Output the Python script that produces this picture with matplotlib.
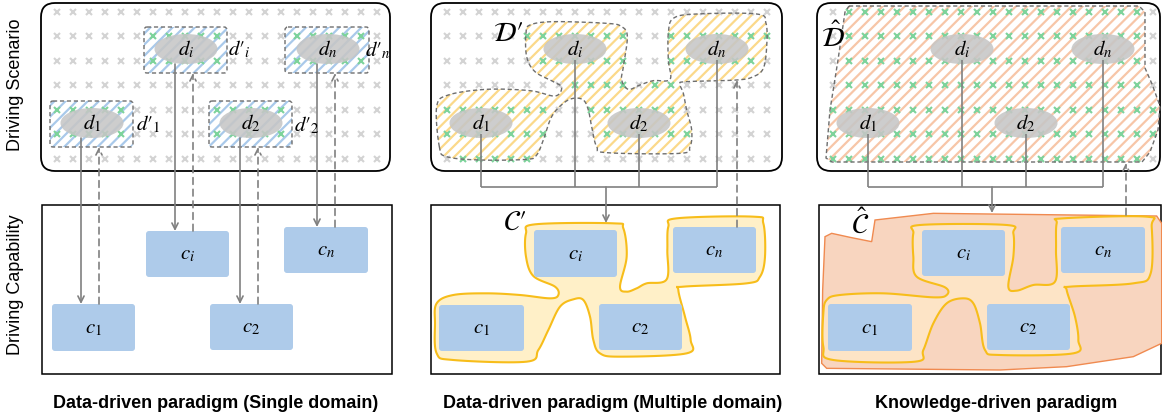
import numpy as np
import matplotlib
matplotlib.use("Agg")
import matplotlib.pyplot as plt
from matplotlib.patches import Ellipse, Rectangle, FancyBboxPatch, Polygon, FancyArrowPatch
from matplotlib.path import Path

plt.rcParams['mathtext.fontset'] = 'stix'
plt.rcParams['hatch.linewidth'] = 1.6

# ---------------- content ----------------
panel_titles = ["Data-driven paradigm (Single domain)",
                "Data-driven paradigm (Multiple domain)",
                "Knowledge-driven paradigm"]
row_labels = ["Driving Scenario", "Driving Capability"]
node_subs = ["1", "i", "2", "n"]
region_labels_top = [None, r"$\mathcal{D}\prime$", r"$\hat{\mathcal{D}}$"]
region_labels_bot = [None, r"$\mathcal{C}\prime$", r"$\hat{\mathcal{C}}$"]

# ---------------- layout (pixels) ----------------
W, H = 1162, 418
top_boxes = [(41, 3, 390, 171), (431, 3, 782, 171), (817, 3, 1160, 171)]
bot_boxes = [(42, 205, 392, 374), (431, 205, 780, 374), (819, 205, 1161, 374)]
grid_x0 = [57, 447, 833]
grid_dx = 16
grid_n = 21
grid_rows = [12, 36, 61, 85, 110, 134, 159]
title_x = [216, 613, 996]
title_y = 403

# ellipse centres for d1, di, d2, dn
ell_centres = [
    [(92, 123), (186, 49), (251, 123), (328, 49)],
    [(481, 123), (575, 49), (639, 123), (717, 49)],
    [(868, 123), (962, 49), (1026, 123), (1103, 49)],
]
ell_w, ell_h = 63, 30
# capability boxes (x0, y0, x1, y1)
cap_boxes = [
    [(52, 304, 135, 351), (146, 231, 229, 277), (210, 304, 293, 350), (284, 227, 368, 273)],
    [(439, 305, 524, 351), (534, 230, 617, 277), (599, 304, 682, 350), (673, 227, 756, 273)],
    [(828, 304, 912, 351), (922, 230, 1005, 276), (987, 304, 1070, 350), (1061, 227, 1145, 273)],
]
# panel-1 local domain boxes
dp_boxes = [(50, 101, 133, 147), (144, 27, 227, 73), (209, 101, 292, 147), (285, 27, 369, 73)]
dp_label_pos = [(148, 124), (239, 49), (307, 125), (378, 50)]

def smooth(pts, n=14):
    P = np.array(pts, float)
    N = len(P)
    out = []
    t = np.linspace(0, 1, n, endpoint=False)[:, None]
    for i in range(N):
        p0, p1, p2, p3 = P[i - 1], P[i], P[(i + 1) % N], P[(i + 2) % N]
        out.append(0.5 * ((2 * p1) + (-p0 + p2) * t + (2 * p0 - 5 * p1 + 4 * p2 - p3) * t ** 2
                          + (-p0 + 3 * p1 - 3 * p2 + p3) * t ** 3))
    return np.vstack(out)

def zoomed(pts, ox, oy):
    return [(x / 3 + ox, y / 3 + oy) for x, y in pts]

Dprime_raw = [(58,440),(50,320),(85,285),(200,268),(330,272),(405,288),(425,262),(400,245),(345,215),
              (320,170),(318,100),(330,75),(400,65),(560,70),(605,80),(622,110),(610,200),(605,240),
              (625,268),(660,255),(700,242),(750,238),(745,180),(745,100),(760,55),(830,42),(1010,42),
              (1038,70),(1040,140),(1030,205),(1000,230),(950,240),(800,245),(780,252),(790,280),
              (800,330),(815,390),(810,440),(780,460),(560,458),(530,440),(515,380),(505,330),(490,300),
              (460,295),(430,310),(395,350),(370,420),(350,465),(320,478),(180,480),(80,470)]
Cprime_raw = [(45,400),(50,340),(100,315),(200,310),(300,315),(390,325),(415,315),(405,290),(340,258),
              (318,200),(318,130),(345,103),(580,100),(610,115),(620,200),(600,290),(620,305),(650,295),
              (680,280),(740,268),(742,180),(745,110),(770,85),(1000,80),(1030,100),(1035,200),(1020,260),
              (980,280),(790,290),(775,300),(795,380),(812,450),(800,490),(600,500),(540,490),(520,450),
              (510,380),(490,330),(460,328),(420,350),(385,420),(355,480),(320,515),(100,510),(50,490)]
Chat_y_raw = [(70,370),(80,330),(120,315),(250,310),(400,322),(440,315),(435,292),(350,260),(340,200),
              (340,130),(360,105),(620,105),(640,130),(640,200),(625,290),(650,302),(700,285),(765,275),
              (768,180),(770,100),(790,85),(1040,80),(1055,110),(1052,250),(1000,280),(810,290),(800,300),
              (825,380),(835,450),(820,490),(600,495),(555,480),(540,400),(520,340),(490,325),(440,340),
              (400,400),(370,480),(345,515),(100,510),(70,470)]
Chat_o_raw = [(75,140),(95,130),(150,142),(215,155),(225,90),(400,70),(1070,78),(1085,100),(1085,460),
              (1000,500),(800,530),(600,540),(80,535),(65,520),(68,300)]
Dhat_pts = [(849,6),(1139,6),(1145,12),(1145,68),(1152,84),(1160,106),(1158,130),(1150,152),
            (1142,162),(832,162),(826,158),(830,110),(838,60),(845,12)]

Dprime = smooth(zoomed(Dprime_raw, 420, 0))
Cprime = smooth(zoomed(Cprime_raw, 420, 190))
Chat_y = smooth(zoomed(Chat_y_raw, 800, 190))
Chat_o = np.array(zoomed(Chat_o_raw, 800, 190))
Dhat = np.array(Dhat_pts, float)

GRAYX = '#d3d3d3'
GREENX = '#7dd39b'
LINE = '#808080'
BLUE_BOX = '#aecbea'
ELL = '#c6c6c6'

fig = plt.figure(figsize=(W / 100, H / 100), dpi=100)
ax = fig.add_axes([0, 0, 1, 1])
ax.set_xlim(0, W)
ax.set_ylim(H, 0)
ax.axis('off')

def arrow(x0, y0, x1, y1, dashed=False):
    a = FancyArrowPatch((x0, y0), (x1, y1), arrowstyle='->', mutation_scale=11,
                        color=LINE, lw=1.2, linestyle=(0, (4, 3)) if dashed else '-',
                        shrinkA=0, shrinkB=0, zorder=6)
    ax.add_patch(a)

def line(xs, ys, dashed=False):
    ax.plot(xs, ys, color=LINE, lw=1.2, ls=(0, (4, 3)) if dashed else '-', zorder=6,
            solid_capstyle='butt')

# ---------- frames ----------
for (x0, y0, x1, y1) in top_boxes:
    ax.add_patch(FancyBboxPatch((x0, y0), x1 - x0, y1 - y0,
                                boxstyle="round,pad=0,rounding_size=14",
                                fc='white', ec='black', lw=1.3, zorder=1))
for (x0, y0, x1, y1) in bot_boxes:
    ax.add_patch(Rectangle((x0, y0), x1 - x0, y1 - y0, fc='white', ec='black', lw=1.1, zorder=1))

# ---------- hatched regions ----------
for (x0, y0, x1, y1) in dp_boxes:
    ax.add_patch(FancyBboxPatch((x0, y0), x1 - x0, y1 - y0, boxstyle="round,pad=0,rounding_size=3",
                                fc='none', ec='#a9c9ea', hatch='///', lw=0, zorder=2))
    ax.add_patch(FancyBboxPatch((x0, y0), x1 - x0, y1 - y0, boxstyle="round,pad=0,rounding_size=3",
                                fc='none', ec='#6e6e6e', lw=1.0, ls=(0, (3, 2)), zorder=4))
ax.add_patch(Polygon(Dprime, closed=True, fc='none', ec='#fbd98a', hatch='///', lw=0, zorder=2))
ax.add_patch(Polygon(Dprime, closed=True, fc='none', ec='#6e6e6e', lw=1.0, ls=(0, (3, 2)), zorder=4))
ax.add_patch(Polygon(Dhat, closed=True, fc='none', ec='#f7c6a8', hatch='///', lw=0, zorder=2))
ax.add_patch(Polygon(Dhat, closed=True, fc='none', ec='#6e6e6e', lw=1.0, ls=(0, (3, 2)), zorder=4))

# ---------- cross grids ----------
regions = [
    [Path([(x0, y0), (x1, y0), (x1, y1), (x0, y1)]) for (x0, y0, x1, y1) in dp_boxes],
    [Path(Dprime)],
    [Path(Dhat)],
]
for p in range(3):
    gx, gy, cols = [], [], []
    for r in grid_rows:
        for k in range(grid_n):
            x = grid_x0[p] + grid_dx * k
            inside = any(rp.contains_point((x, r)) for rp in regions[p])
            gx.append(x); gy.append(r); cols.append(GREENX if inside else GRAYX)
    gx = np.array(gx); gy = np.array(gy); cols = np.array(cols)
    for c in (GRAYX, GREENX):
        m = cols == c
        ax.plot(gx[m], gy[m], 'x', color=c, ms=4.2, mew=1.5, zorder=3, ls='none')

# ---------- ellipses ----------
for p in range(3):
    for (cx, cy), s in zip(ell_centres[p], node_subs):
        ax.add_patch(Ellipse((cx, cy), ell_w, ell_h, fc=ELL, ec='none', alpha=0.88, zorder=5))
        ax.text(cx, cy, rf"$d_{{{s}}}$", fontsize=15, ha='center', va='center', zorder=7)

for (x, y), s in zip(dp_label_pos, node_subs):
    ax.text(x, y, rf"$d\prime_{{{s}}}$", fontsize=15, ha='center', va='center', zorder=7)

# ---------- capability regions ----------
ax.add_patch(Polygon(Cprime, closed=True, fc='#fff0c8', ec='#f7bd1a', lw=1.5, zorder=2))
ax.add_patch(Polygon(Chat_o, closed=True, fc='#f8d5bf', ec='#f08a50', lw=1.0, zorder=2))
ax.add_patch(Polygon(Chat_y, closed=True, fc='#fde4c6', ec='#f7bd1a', lw=1.5, zorder=2.5))

for p in range(3):
    for (x0, y0, x1, y1), s in zip(cap_boxes[p], node_subs):
        ax.add_patch(FancyBboxPatch((x0, y0), x1 - x0, y1 - y0, boxstyle="round,pad=0,rounding_size=3",
                                    fc=BLUE_BOX, ec='none', zorder=3))
        ax.text((x0 + x1) / 2, (y0 + y1) / 2, rf"$c_{{{s}}}$", fontsize=15,
                ha='center', va='center', zorder=7)

# ---------- arrows panel 1 ----------
for (cx, cy), (bx0, by0, bx1, by1), (dx0, dy0, dx1, dy1) in zip(ell_centres[0], cap_boxes[0], dp_boxes):
    arrow(cx - 11, cy + ell_h / 2, cx - 11, by0)
    arrow(cx + 7, by0, cx + 7, dy1, dashed=True)

# ---------- connectors panels 2, 3 ----------
bus_y = 187
for p, (tip_x, tip_y, dash_x, dash_y0, dash_y1) in zip(
        (1, 2), [(606, 223, 737, 227, 80), (992, 213, 1126, 215, 163)]):
    xs = [c[0] for c in ell_centres[p]]
    for (cx, cy) in ell_centres[p]:
        line([cx, cx], [cy + ell_h / 2 - 4, bus_y])
    line([min(xs), max(xs)], [bus_y, bus_y])
    arrow(tip_x, bus_y, tip_x, tip_y)
    arrow(dash_x, dash_y0, dash_x, dash_y1, dashed=True)

# ---------- region labels ----------
ax.text(508, 33, region_labels_top[1], fontsize=20, ha='center', va='center', zorder=8)
ax.text(515, 222, region_labels_bot[1], fontsize=20, ha='center', va='center', zorder=8)
ax.text(833, 38, region_labels_top[2], fontsize=20, ha='center', va='center', zorder=8)
ax.text(860, 225, region_labels_bot[2], fontsize=20, ha='center', va='center', zorder=8)

# ---------- text ----------
ax.text(16, 85, row_labels[0], rotation=90, fontsize=13, family='Liberation Sans',
        ha='center', va='center')
ax.text(16, 285, row_labels[1], rotation=90, fontsize=13, family='Liberation Sans',
        ha='center', va='center')
for x, t in zip(title_x, panel_titles):
    ax.text(x, title_y, t, fontsize=13, fontweight='bold', family='Liberation Sans',
            ha='center', va='center')

fig.savefig('out.png', dpi=100)
